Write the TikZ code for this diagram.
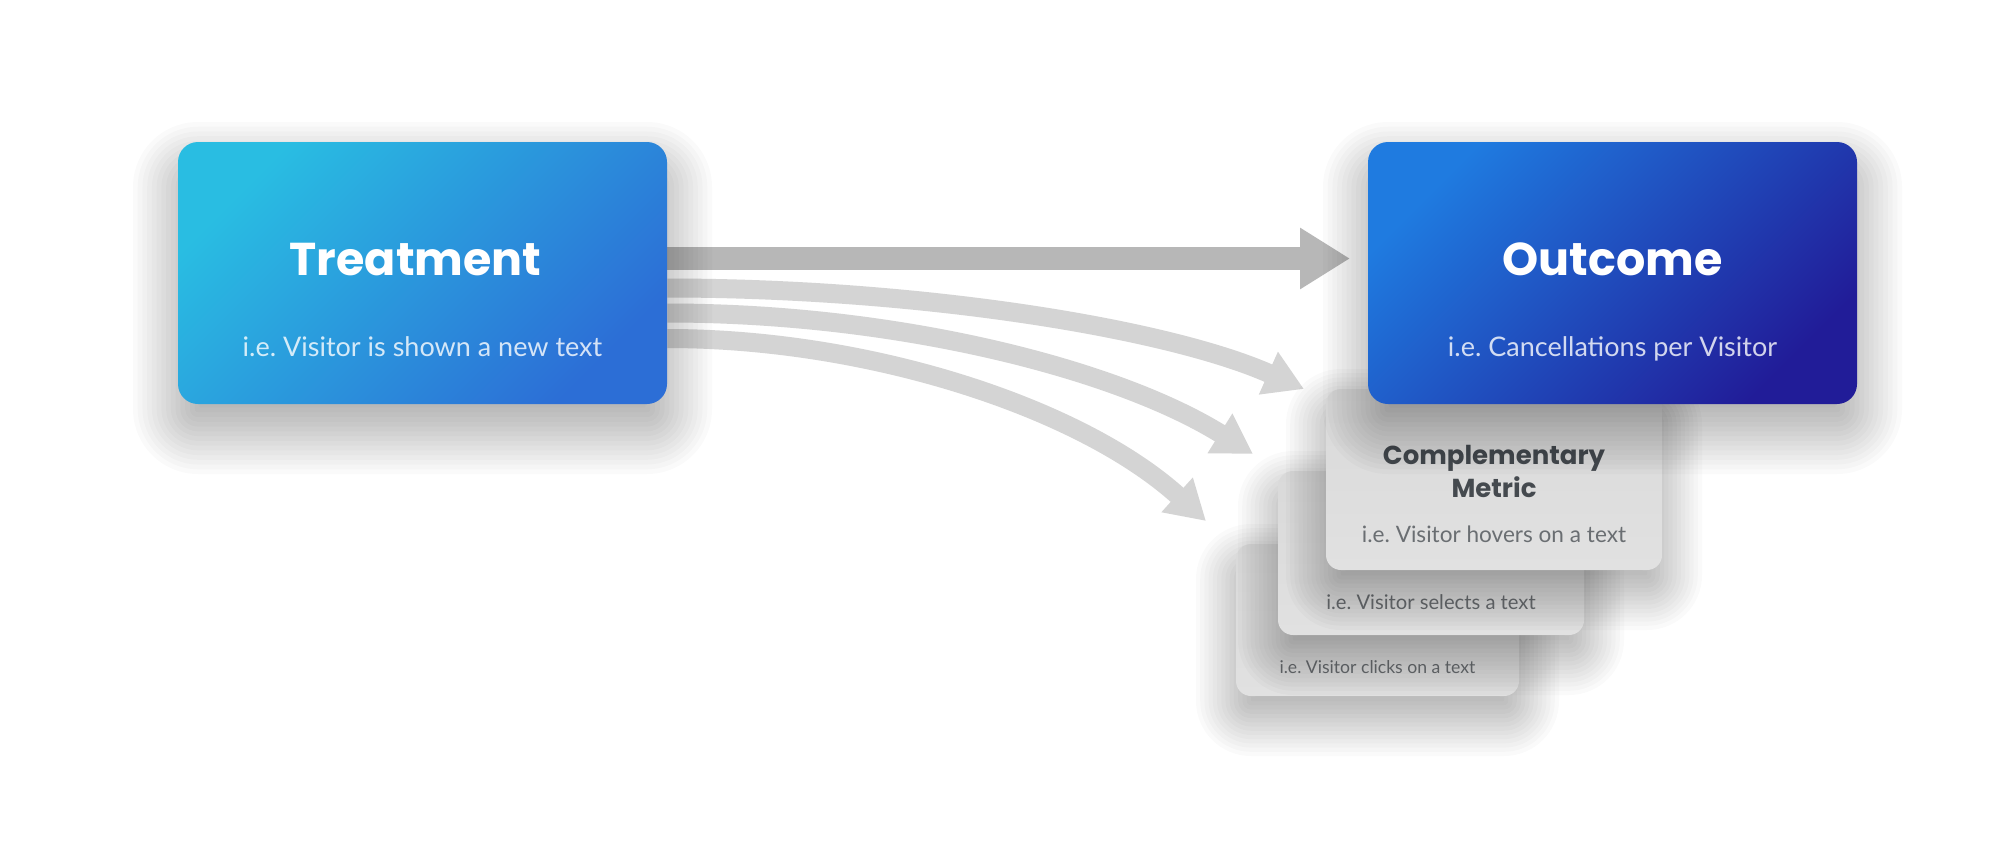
\documentclass[tikz,border=0pt]{standalone}
\usepackage{fontspec}
\setmainfont{Lato}
\newfontfamily\titlefont{Poppins}
\usetikzlibrary{arrows.meta,calc}
\pgfdeclarelayer{background}
\pgfsetlayers{background,main}
\frenchspacing
\definecolor{tA}{HTML}{29BDE2}
\definecolor{tB}{HTML}{2C6ED6}
\definecolor{oA}{HTML}{1F7BE0}
\definecolor{oB}{HTML}{211C98}
\definecolor{arrowdark}{HTML}{B7B7B7}
\definecolor{arrowlight}{HTML}{D4D4D4}
\definecolor{cardtop}{HTML}{D9D9D9}
\definecolor{cardbot}{HTML}{E1E1E1}
\definecolor{cardtitle}{HTML}{454A4F}
\definecolor{cardtext}{HTML}{6A6E72}
% soft shadow: cx cy w h radius dy blur alpha (pixel units)
\newcommand\softshadow[8]{%
  \foreach \k in {0,...,19}{%
    \pgfmathsetmacro\ee{-#7+2*#7*\k/19}%
    \pgfmathsetmacro\rr{max(0.5,(#5+\ee)/2)}%
    \fill[black, fill opacity=#8, rounded corners=\rr pt]
      ({#1-#3/2-(\ee)},{#2-#4/2-(\ee)+#6}) rectangle ({#1+#3/2+(\ee)},{#2+#4/2+(\ee)+#6});
  }}
\tikzset{
  mainbox/.style={rounded corners=10pt, minimum width=244.5pt, minimum height=131pt, inner sep=0pt},
  cardbox/.style={rounded corners=7.5pt, inner sep=0pt, top color=cardtop, bottom color=cardbot},
  bigtitle/.style={font=\titlefont\bfseries\fontsize{23}{27}\selectfont, text=white, anchor=base, inner sep=0pt},
  bigsub/.style={font=\fontsize{13.5}{16}\selectfont, text=white, text opacity=0.8, anchor=base, inner sep=0pt},
  cardtitletext/.style={font=\titlefont\bfseries\fontsize{13}{16}\selectfont, text=cardtitle, anchor=base, inner sep=0pt},
  cardsub/.style={text=cardtext, anchor=base, inner sep=0pt},
  darkarrow/.style={line width=11.5pt, draw=arrowdark, -{Triangle[length=25pt,width=29pt]}},
  lightarrow/.style={line width=9.5pt, draw=arrowlight, -{Triangle[length=19.5pt,width=22pt]}}
}
\begin{document}
\begin{tikzpicture}[x=0.5pt,y=-0.5pt]
\useasboundingbox (0,0) rectangle (2000,841);

% cards, back to front
\softshadow{1377.5}{620}{283}{152}{15}{20}{40}{0.02}
\node[cardbox, minimum width=141.5pt, minimum height=76pt] (card3) at (1377.5,620) {};
\node[cardsub, font=\fontsize{8.8}{11}\selectfont] (t3) at ($(card3.center)+(0,53)$) {i.e. Visitor clicks on a text};

\softshadow{1431}{553}{306}{164}{15}{20}{40}{0.02}
\node[cardbox, minimum width=153pt, minimum height=82pt] (card2) at (1431,553) {};
\node[cardsub, font=\fontsize{10.1}{12}\selectfont] (t2) at ($(card2.center)+(0,56)$) {i.e. Visitor selects a text};

\softshadow{1494}{479.5}{336}{181}{15}{20}{40}{0.02}
\node[cardbox, minimum width=168pt, minimum height=90.5pt] (card1) at (1494,479.5) {};
\node[cardtitletext] (c1a) at ($(card1.center)+(0,-15.5)$) {Complementary};
\node[cardtitletext] (c1b) at ($(card1.center)+(0,17.5)$) {Metric};
\node[cardsub, font=\fontsize{11.3}{14}\selectfont] (t1) at ($(card1.center)+(0,62.5)$) {i.e. Visitor hovers on a text};

% main boxes
\softshadow{422.5}{273}{489}{262}{20}{25}{45}{0.021}
\softshadow{1612.5}{273}{489}{262}{20}{25}{45}{0.021}
\node[mainbox, top color=tA, bottom color=tB, shading angle=45] (treat) at (422.5,273) {};
\node[mainbox, top color=oA, bottom color=oB, shading angle=45] (out) at (1612.5,273) {};

\node[bigtitle] (treatT) at ($(treat.center)+(-7,2)$) {Treatment};
\node[bigsub] (treatS) at ($(treat.center)+(0,83)$) {i.e. Visitor is shown a new text};
\node[bigtitle] (outT) at ($(out.center)+(0,2)$) {Outcome};
\node[bigsub] (outS) at ($(out.center)+(0,83)$) {i.e. Cancellations per Visitor};

\coordinate (e0) at (1350,258.5);
\coordinate (e1) at (1304,389);
\coordinate (e2) at (1253,454);
\coordinate (e3) at (1206,521);

\begin{pgfonlayer}{background}
\fill[white] (0,0) rectangle (2000,841);
\draw[darkarrow] ([yshift=7.25pt]treat.east) -- (e0);
\draw[lightarrow] ([yshift=-7.5pt]treat.east) .. controls +(250,0) and +(-137,-61) .. (e1);
\draw[lightarrow] ([yshift=-20pt]treat.east) .. controls +(230,0) and +(-136,-85) .. (e2);
\draw[lightarrow] ([yshift=-32.75pt]treat.east) .. controls +(200,0) and +(-126,-114) .. (e3);
\end{pgfonlayer}
\end{tikzpicture}
\end{document}
